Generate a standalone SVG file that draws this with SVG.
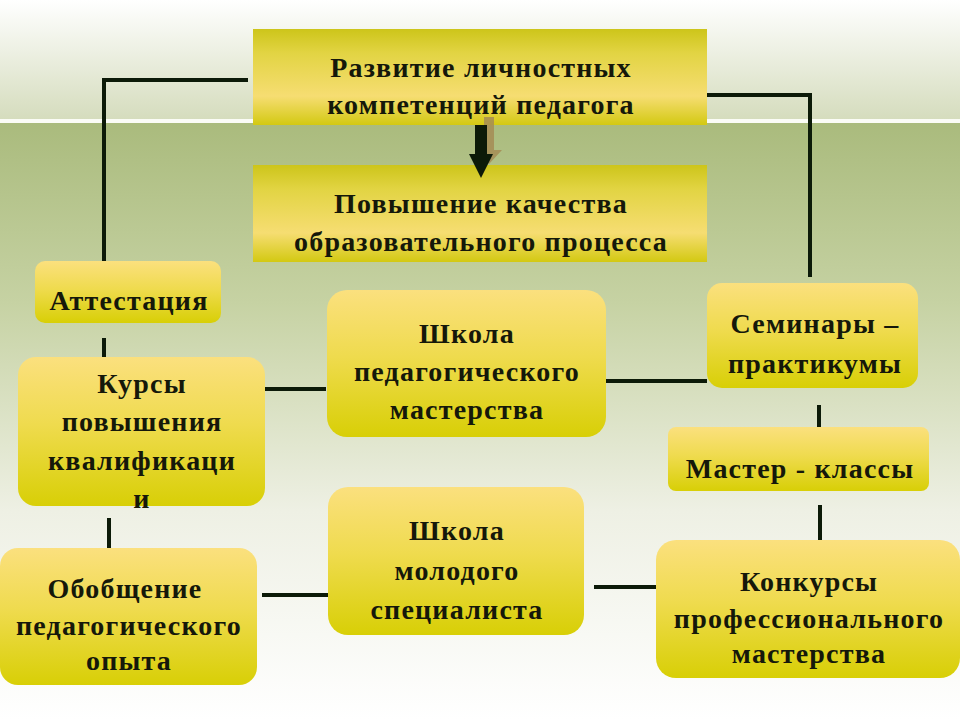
<svg xmlns="http://www.w3.org/2000/svg" width="960" height="720" viewBox="0 0 960 720">
<defs>
<linearGradient id="bgTop" x1="0" y1="0" x2="0" y2="1">
<stop offset="0" stop-color="#ffffff"/>
<stop offset="1" stop-color="#d5dcbd"/>
</linearGradient>
<linearGradient id="bgMain" x1="0" y1="0" x2="0" y2="1">
<stop offset="0" stop-color="#aabb7d"/>
<stop offset="0.3" stop-color="#c6d2a3"/>
<stop offset="0.65" stop-color="#eef0e4"/>
<stop offset="1" stop-color="#ffffff"/>
</linearGradient>
<linearGradient id="rectFill" x1="0" y1="0" x2="0" y2="1">
<stop offset="0" stop-color="#cdc51a"/>
<stop offset="0.25" stop-color="#e2d443"/>
<stop offset="0.7" stop-color="#f6dd72"/>
<stop offset="1" stop-color="#d3c912"/>
</linearGradient>
<linearGradient id="boxFill" x1="0" y1="0" x2="0" y2="1">
<stop offset="0" stop-color="#fbe07e"/>
<stop offset="0.45" stop-color="#efdb4e"/>
<stop offset="1" stop-color="#d8cf06"/>
</linearGradient>
<style>
text{font-family:"Liberation Serif","DejaVu Serif",serif;font-weight:bold;fill:#15180a;text-anchor:middle}
.t{font-size:28px;letter-spacing:1.2px}
.line{stroke:#0c1a08;stroke-width:4;fill:none}
.rbox{fill:url(#boxFill)}
.sbox{fill:url(#rectFill)}
</style>
</defs>
<rect x="0" y="0" width="960" height="120" fill="url(#bgTop)"/>
<rect x="0" y="123" width="960" height="597" fill="url(#bgMain)"/>
<rect x="0" y="119" width="960" height="4" fill="#fbfcf6"/>

<g id="connectors">
<polyline class="line" points="248,80 104,80 104,262"/>
<polyline class="line" points="707,95 810,95 810,277"/>
<line class="line" x1="104" y1="338" x2="104" y2="358"/>
<line class="line" x1="109" y1="518" x2="109" y2="548"/>
<line class="line" x1="265" y1="389" x2="326" y2="389"/>
<line class="line" x1="601" y1="381" x2="707" y2="381"/>
<line class="line" x1="819" y1="405" x2="819" y2="427"/>
<line class="line" x1="820" y1="505" x2="820" y2="540"/>
<line class="line" x1="262" y1="595" x2="330" y2="595"/>
<line class="line" x1="594" y1="587" x2="656" y2="587"/>
</g>

<g id="n_razvitie">
<rect class="sbox" x="253" y="29" width="454" height="96"/>
<text class="t" x="481" y="77">Развитие личностных</text>
<text class="t" x="481" y="114">компетенций педагога</text>
</g>

<g id="n_povyshenie">
<rect class="sbox" x="253" y="165" width="454" height="97"/>
<text class="t" x="481" y="213">Повышение качества</text>
<text class="t" x="481" y="251">образовательного процесса</text>
</g>

<g id="arrow">
<polygon points="484,117 494,117 494,150 502,150 489,164 476,150 484,150" fill="#a48c55" opacity="0.85"/>
<polygon points="475,125 487,125 487,154 493,154 481,178 469,154 475,154" fill="#0c1a08"/>
</g>

<g id="n_attestaciya">
<rect class="rbox" x="35" y="261" width="186" height="62" rx="10"/>
<text class="t" x="129" y="310">Аттестация</text>
</g>

<g id="n_kursy">
<rect class="rbox" x="18" y="357" width="247" height="149" rx="18"/>
<text class="t" x="142" y="393">Курсы</text>
<text class="t" x="142" y="431">повышения</text>
<text class="t" x="142" y="470">квалификаци</text>
<text class="t" x="142" y="508">и</text>
</g>

<g id="n_obobshenie">
<rect class="rbox" x="0" y="548" width="257" height="137" rx="18"/>
<text class="t" x="125" y="598">Обобщение</text>
<text class="t" x="129" y="635">педагогического</text>
<text class="t" x="129" y="670">опыта</text>
</g>

<g id="n_shkola_ped">
<rect class="rbox" x="327" y="290" width="279" height="147" rx="20"/>
<text class="t" x="467" y="343">Школа</text>
<text class="t" x="467" y="381">педагогического</text>
<text class="t" x="467" y="419">мастерства</text>
</g>

<g id="n_shkola_mol">
<rect class="rbox" x="328" y="487" width="256" height="148" rx="20"/>
<text class="t" x="457" y="540">Школа</text>
<text class="t" x="457" y="580">молодого</text>
<text class="t" x="457" y="619">специалиста</text>
</g>

<g id="n_seminary">
<rect class="rbox" x="707" y="283" width="211" height="105" rx="15"/>
<text class="t" x="815" y="333">Семинары –</text>
<text class="t" x="815" y="373">практикумы</text>
</g>

<g id="n_master">
<rect class="rbox" x="668" y="427" width="261" height="64" rx="8"/>
<text class="t" x="800" y="478">Мастер - классы</text>
</g>

<g id="n_konkursy">
<rect class="rbox" x="656" y="540" width="304" height="138" rx="20"/>
<text class="t" x="809" y="591">Конкурсы</text>
<text class="t" x="809" y="628">профессионального</text>
<text class="t" x="809" y="663">мастерства</text>
</g>
</svg>
